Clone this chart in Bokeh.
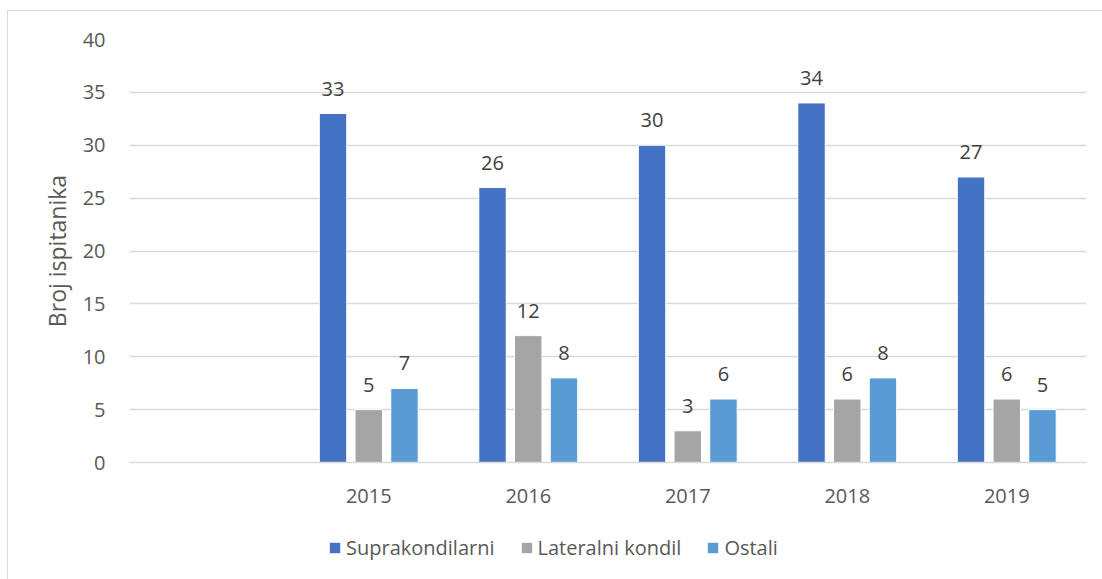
from bokeh.plotting import figure
from bokeh.layouts import column
from bokeh.models import ColumnDataSource, FactorRange, Range1d, LabelSet, Legend, LegendItem, SingleIntervalTicker
from bokeh.transform import dodge
from bokeh.core.properties import value
from bokeh.embed import file_html
from bokeh.resources import INLINE

categories = [" ", "2015", "2016", "2017", "2018", "2019"]
years = ["2015", "2016", "2017", "2018", "2019"]
suprakondilarni = [33, 26, 30, 34, 27]
lateralni_kondil = [5, 12, 3, 6, 6]
ostali = [7, 8, 6, 8, 5]
series_names = ["Suprakondilarni", "Lateralni kondil", "Ostali"]
colors = ["#4472C4", "#A5A5A5", "#5B9BD5"]

FONT = "Open Sans"

source = ColumnDataSource(dict(
    x=years,
    s=suprakondilarni, l=lateralni_kondil, o=ostali,
    st=[str(v) for v in suprakondilarni],
    lt=[str(v) for v in lateralni_kondil],
    ot=[str(v) for v in ostali],
))

p = figure(width=1094, height=511, x_range=FactorRange(*categories),
           y_range=Range1d(0, 40), output_backend="svg", toolbar_location=None,
           min_border_left=121, min_border_right=16, min_border_top=28, min_border_bottom=60)
p.x_range.factor_padding = 0
p.x_range.range_padding = 0
p.outline_line_color = None
p.background_fill_color = "white"
p.border_fill_color = "white"

offsets = [-0.224, 0.0, 0.224]
fields = ["s", "l", "o"]
tfields = ["st", "lt", "ot"]
for off, f, tf, c in zip(offsets, fields, tfields, colors):
    p.vbar(x=dodge("x", off, range=p.x_range), top=f, width=0.172, source=source,
           fill_color=c, line_color="white", line_width=1)
    lab = LabelSet(x=dodge("x", off, range=p.x_range), y=f, text=tf, source=source,
                   text_align="center", text_baseline="bottom", y_offset=18,
                   text_font=value(FONT), text_font_size="20px", text_color="#404040")
    p.add_layout(lab)

p.yaxis.ticker = SingleIntervalTicker(interval=5)
p.yaxis.axis_line_color = None
p.yaxis.major_tick_line_color = None
p.yaxis.minor_tick_line_color = None
p.yaxis.major_label_standoff = 18
p.yaxis.major_label_text_font = FONT
p.yaxis.major_label_text_font_size = "20px"
p.yaxis.major_label_text_color = "#595959"
p.yaxis.axis_label = "Broj ispitanika"
p.yaxis.axis_label_text_font = FONT
p.yaxis.axis_label_text_font_size = "23px"
p.yaxis.axis_label_text_font_style = "normal"
p.yaxis.axis_label_text_color = "#595959"
p.yaxis.axis_label_standoff = 7

p.xaxis.axis_line_color = "#d9d9d9"
p.xaxis.axis_line_width = 1.5
p.xaxis.major_tick_line_color = None
p.xaxis.minor_tick_line_color = None
p.xaxis.major_label_standoff = 13
p.xaxis.major_label_text_font = FONT
p.xaxis.major_label_text_font_size = "20px"
p.xaxis.major_label_text_color = "#595959"

p.xgrid.grid_line_color = None
p.ygrid.grid_line_color = "#d9d9d9"
p.ygrid.grid_line_width = 1.5

# legend strip below the chart (its bars lie outside the visible y range)
pl = figure(width=1094, height=57, x_range=FactorRange(*categories), y_range=Range1d(100, 101),
            output_backend="svg", toolbar_location=None,
            min_border_left=0, min_border_right=0, min_border_top=0, min_border_bottom=0)
pl.axis.visible = False
pl.grid.grid_line_color = None
pl.outline_line_color = None
pl.border_fill_color = "white"
stubs = [pl.vbar(x="x", top=f, width=0.1, source=source, fill_color=c, line_color=None)
         for f, c in zip(fields, colors)]
legend = Legend(items=[LegendItem(label=n, renderers=[r]) for n, r in zip(series_names, stubs)],
                orientation="horizontal", location=(199, 18),
                glyph_width=13, glyph_height=13, label_standoff=5, spacing=25,
                padding=0, margin=0, border_line_color=None, background_fill_alpha=0,
                label_text_font=FONT, label_text_font_size="20px", label_text_color="#595959",
                label_height=20)
pl.add_layout(legend, "center")

layout = column(p, pl, spacing=0)
layout.margin = (10, 0, 0, 7)
layout.styles = {"border-top": "1px solid #d9d9d9", "border-left": "1px solid #d9d9d9"}

open("out.html", "w").write(file_html(layout, INLINE))
